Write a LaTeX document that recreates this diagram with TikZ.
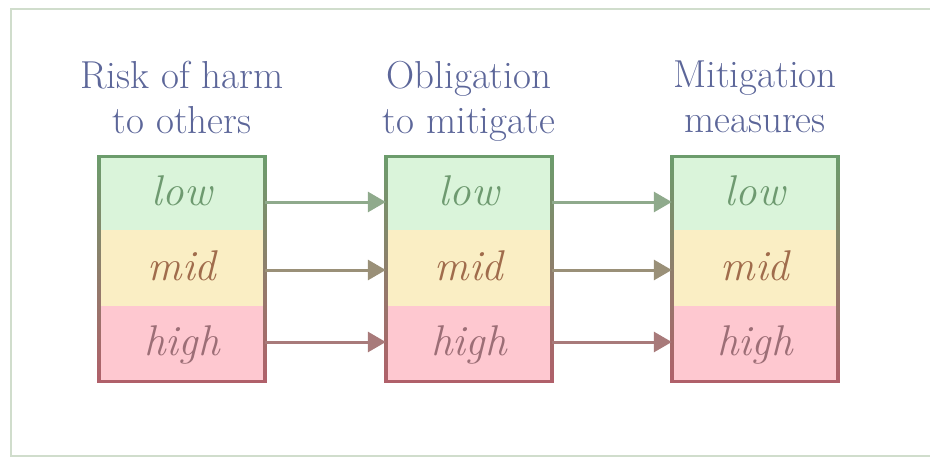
\documentclass[tikz,border=0pt]{standalone}
\usetikzlibrary{arrows.meta}
\definecolor{framecol}{HTML}{D0DDCC}
\definecolor{titlecol}{HTML}{5C6699}
\definecolor{lowfill}{HTML}{DAF4DA}
\definecolor{midfill}{HTML}{FAEEC4}
\definecolor{highfill}{HTML}{FEC8D0}
\definecolor{lowtext}{HTML}{6E9A70}
\definecolor{midtext}{HTML}{A06C4C}
\definecolor{hightext}{HTML}{9C6E76}
\definecolor{lowarrow}{HTML}{8FAA8C}
\definecolor{midarrow}{HTML}{9A9078}
\definecolor{higharrow}{HTML}{A87A7A}
\definecolor{bordgreen}{HTML}{6C9C6C}
\definecolor{bordred}{HTML}{B0606A}
\tikzset{
  title/.style={text=titlecol, align=center, inner sep=0pt, anchor=north,
    font=\fontsize{39}{45}\selectfont},
  cell/.style={minimum width=166pt, inner sep=0pt, text height=29pt, text depth=5pt,
    font=\fontsize{43}{43}\selectfont\itshape},
  lowcell/.style={cell, fill=lowfill, text=lowtext, minimum height=73pt},
  midcell/.style={cell, fill=midfill, text=midtext, minimum height=76pt},
  highcell/.style={cell, fill=highfill, text=hightext, minimum height=75pt},
  conn/.style={line width=3pt, -{Triangle[length=18pt,width=20pt]}},
}
\begin{document}
\begin{tikzpicture}[x=1pt,y=-1pt]
\useasboundingbox (0,0) rectangle (930,458);
\draw[framecol, line width=2pt] (945,9) -- (11,9) -- (11,456) -- (945,456);

\foreach \c/\x/\t in {r/182/{Risk of harm\\to others}, o/469/{Obligation\\to mitigate}, m/755/{Mitigation\\measures}}{
  \node[title] (\c title) at (\x,61) {\t};
  \node[lowcell] (\c low) at (\x,193.5) {low};
  \node[midcell] (\c mid) at (\x,268) {mid};
  \node[highcell] (\c high) at (\x,343.5) {high};
  \shade[top color=bordgreen, bottom color=bordred]
    ([xshift=-1.5pt]\c low.north west) rectangle ([xshift=1.5pt]\c high.south west);
  \shade[top color=bordgreen, bottom color=bordred]
    ([xshift=-1.5pt]\c low.north east) rectangle ([xshift=1.5pt]\c high.south east);
  \draw[bordgreen, line width=3pt] ([xshift=-1.5pt]\c low.north west) -- ([xshift=1.5pt]\c low.north east);
  \draw[bordred, line width=3pt] ([xshift=-1.5pt]\c high.south west) -- ([xshift=1.5pt]\c high.south east);
}

\foreach \a/\b in {r/o, o/m}{
  \draw[conn, lowarrow] ([yshift=-8.5pt]\a low.east) -- ([yshift=-8.5pt]\b low.west);
  \draw[conn, midarrow] ([yshift=-2pt]\a mid.east) -- ([yshift=-2pt]\b mid.west);
  \draw[conn, higharrow] ([yshift=1.5pt]\a high.east) -- ([yshift=1.5pt]\b high.west);
}
\end{tikzpicture}
\end{document}
